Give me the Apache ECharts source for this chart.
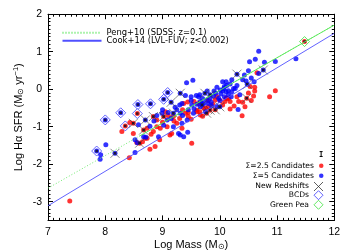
<!DOCTYPE html>
<html><head><meta charset="utf-8">
<script src="https://cdn.jsdelivr.net/npm/echarts@6/dist/echarts.min.js"></script>
<style>html,body{margin:0;padding:0;background:#fff}#c{width:350px;height:250px}</style>
</head><body><div id="c"></div>
<script>
const xTicks = [7, 8, 9, 10, 11, 12];
const yTicks = [-3, -2, -1, 0, 1, 2];

const pengLine = [[7, -2.64], [12, 1.71]];
const pengSolid = [[8.6, -1.25], [12, 1.71]];
const cookLine = [[7, -3.11], [12, 1.49]];

const sigma25 = [
 [7.38,-2.98],[8.42,-1.83],[8.55,-1.42],[8.60,-1.44],[8.78,-1.60],[8.87,-1.53],[8.73,-1.31],[8.49,-1.18],
 [8.29,-1.13],[8.43,-0.89],[9.34,-1.04],[9.51,-1.44],[9.13,-1.22],[9.16,-1.18],[10.97,-0.04],[10.87,-0.20],
 [10.39,-0.71],[10.65,0.44],[10.53,0.07],[10.61,0.05],[10.61,-0.05],[10.59,-0.18],[10.47,-0.24],[10.33,-0.33],
 [10.44,-0.47],[10.18,-0.53],[10.11,-0.24],[9.37,-0.38],[9.44,-0.34],[9.63,-0.38],[9.05,-0.60],[8.90,-0.82],
 [9.19,-0.73],[9.40,-0.64],[8.73,-1.04],[8.84,-1.13],[8.70,-1.31],[8.96,-1.04],[9.08,-1.00],[9.45,-0.73],
 [9.60,-0.56],[9.75,-0.51],[9.25,-0.91],[9.92,-0.29],[10.01,-0.31],[10.09,-0.33],[10.12,-0.24],[10.18,-0.33],
 [9.80,-0.47],[9.83,-0.56],[9.72,-0.51],[9.66,-0.69],[9.60,-0.60],[8.35,-0.98],[8.56,-0.65],[11.48,1.27],
 [8.84,-0.73],[8.49,-0.91],[8.67,-1.09],[9.02,-0.73],[9.92,-0.55],[9.77,-0.64],
 [8.90,-1.00],[9.00,-0.88],[9.10,-0.70],[9.20,-0.85],[9.30,-0.78],[9.35,-0.55],[9.45,-0.62],[9.50,-0.80],
 [9.55,-0.33],[9.65,-0.60],[9.70,-0.72],[9.80,-0.30],[9.88,-0.40],[9.95,-0.20],[10.05,-0.42],[10.15,-0.25],
 [10.25,-0.45],[10.30,-0.20],[10.40,-0.35],[10.50,-0.10],[10.55,-0.30],[8.80,-1.20],[8.65,-1.40],[8.95,-1.35]
];

const sigma5 = [
 [10.68,1.01],[10.62,0.80],[10.78,0.72],[10.97,0.74],[11.33,0.81],[10.52,0.73],[10.50,0.49],[10.43,0.38],
 [10.68,0.42],[10.76,0.51],[10.30,0.40],[10.46,0.22],[10.21,0.25],[10.05,0.20],[10.11,0.20],[10.18,0.14],
 [10.48,0.13],[10.08,0.07],[10.24,0.02],[10.21,-0.07],[9.74,-0.11],[9.63,-0.20],[9.93,-0.11],[10.01,-0.02],
 [9.42,0.17],[9.53,0.24],[9.31,-0.11],[9.40,-0.17],[9.50,-0.20],[9.22,-0.48],[9.37,-1.27],[9.28,-1.18],
 [9.44,-1.15],[9.31,-1.22],[10.32,-0.54],[8.52,-1.35],[8.56,-1.43],[8.52,-1.69],[8.01,-1.48],[7.92,-1.75],
 [7.91,-1.87],[8.17,-1.71],[8.67,-1.27],[8.71,-1.28],[9.66,-0.33],[9.69,-0.38],[9.77,-0.29],[9.83,-0.24],
 [9.89,-0.18],[10.07,0.02],[10.11,-0.07],[10.15,-0.04],[10.02,-0.13],[10.08,-0.20],[9.98,-0.24],[10.15,-0.15],
 [10.27,0.02],[9.75,-0.60],[9.86,-0.45],[9.95,-0.47],[9.51,-0.42],[9.72,-0.38],[8.99,-0.64],[9.08,-0.82],
 [9.31,-0.64],[8.58,-0.95],[8.78,-0.99],[8.93,-1.27],[9.02,-0.96],[9.43,-0.82],[9.54,-0.64],[9.66,-0.47],
 [9.80,-0.38],[9.34,-0.91],[9.19,-1.00],[9.34,-0.38],[9.59,-0.17],[9.15,-0.35],[8.70,-0.82],[9.69,-0.42],
 [9.19,-0.64],[9.83,-0.15],[10.00,-0.47],
 [7.85,-1.65],[8.00,-0.82],[8.27,-0.63],[8.57,-0.41],[8.79,-0.39],[9.02,-0.27],[9.09,-0.09],
 [8.85,-0.85],[8.90,-0.70],[9.00,-0.55],[9.10,-0.62],[9.15,-0.78],[9.25,-0.55],[9.30,-0.42],[9.35,-0.70],
 [9.45,-0.55],[9.50,-0.30],[9.55,-0.52],[9.60,-0.40],[9.65,-0.15],[9.70,-0.25],[9.78,-0.05],[9.85,-0.35],
 [9.90,-0.05],[9.95,0.05],[10.00,-0.30],[10.05,-0.05],[10.12,0.10],[10.20,-0.20],[10.30,0.10],[10.35,-0.15],
 [10.40,0.25],[10.55,0.30],[10.60,0.20]
];

const newRedshifts = [
 [8.17,-1.71],[8.60,-1.44],[9.31,-0.11],[9.74,-0.11],[10.30,0.40],[10.76,0.51],[10.48,0.13],[10.47,-0.24],
 [9.83,-0.56],[9.15,-0.35],[8.84,-0.73],[8.70,-0.82],[8.49,-0.91],[8.67,-1.09],[9.69,-0.42],[9.02,-0.73],
 [9.19,-0.64],[9.83,-0.15],[9.92,-0.55],[10.00,-0.47],[9.77,-0.64]
];

const bcds = [
 [7.85,-1.65],[8.00,-0.82],[8.27,-0.63],[8.35,-0.98],[8.57,-0.41],[8.56,-0.65],[8.79,-0.39],[9.02,-0.27],[9.09,-0.09]
];
const greenPea = [[11.48,1.27]];
const errBar = [[11.77,-1.73,0.065]];

const FONT = 'Liberation Sans';
const LFONT = 'DejaVu Sans';
const chart = echarts.init(document.getElementById('c'), null, {renderer:'canvas'});

const axLine = {show:true, onZero:false, lineStyle:{color:'#000', width:1}};
function xAx(pos, labels){
  return {type:'value', position:pos, min:7, max:12, interval:1,
    axisLine:axLine, splitLine:{show:false},
    axisTick:{show:true, inside:true, length:5, lineStyle:{color:'#000'}},
    minorTick:{show:true, splitNumber:10, length:2.5, lineStyle:{color:'#000'}},
    axisLabel:{show:labels, color:'#000', fontSize:10.5, fontFamily:FONT, margin:6},
    name: labels ? 'Log Mass (M{s|\u2299})' : '',
    nameLocation:'middle', nameGap:18, nameMoveOverlap:false,
    nameTextStyle:{color:'#000', fontSize:11, fontFamily:FONT, lineHeight:13,
      rich:{s:{fontSize:7.5, fontFamily:FONT, lineHeight:8, verticalAlign:'bottom'}}}
  };
}
function yMajor(pos, labels){
  return {type:'value', position:pos, min:-3.5, max:2, interval:0.5,
    axisLine:axLine, splitLine:{show:false},
    axisTick:{show:true, inside:true, length:5, customValues:yTicks, lineStyle:{color:'#000'}},
    axisLabel:{show:labels, customValues:yTicks, color:'#000', fontSize:10.5, fontFamily:FONT, margin:6,
      formatter: v => (Number.isInteger(v) ? String(v) : '')},
    name: labels ? 'Log H\u03b1 SFR (M{s|\u2299} yr{p|\u22121})' : '',
    nameLocation:'middle', nameGap:23, nameMoveOverlap:false,
    nameTextStyle:{color:'#000', fontSize:11, fontFamily:FONT, lineHeight:13,
      rich:{s:{fontSize:7.5, fontFamily:FONT, lineHeight:8, verticalAlign:'bottom'},
            p:{fontSize:7.5, fontFamily:FONT, lineHeight:8, verticalAlign:'top'}}}
  };
}
function yMinor(pos){
  return {type:'value', position:pos, min:-3.5, max:2, interval:0.1,
    axisLine:{show:false, onZero:false}, splitLine:{show:false}, axisLabel:{show:false},
    axisTick:{show:true, inside:true, length:2.5, lineStyle:{color:'#000'}}};
}

const centers = newRedshifts.concat(bcds, greenPea);
const xIcon = 'path://M0,0L10,10M10,0L0,10';
const dIcon = 'path://M5,0L10,5L5,10L0,5Z';
function rowLegend(item, right, top, w){
  return {data:[item], orient:'vertical', align:'right', right:right, top:top,
    itemWidth:w, itemHeight:9, itemGap:0, padding:0,
    textStyle:{fontSize:7.6, fontFamily:LFONT, color:'#000', lineHeight:9}};
}

const option = {
  animation:false,
  backgroundColor:'#fff',
  grid:{left:48, right:15.7, top:14.2, bottom:29.6, outerBoundsMode:'none', containLabel:false},
  xAxis:[xAx('bottom', true), xAx('top', false)],
  yAxis:[yMajor('left', true), yMinor('left'), yMajor('right', false), yMinor('right')],
  legend:[
    {data:['Peng+10 (SDSS; z=0.1)','Cook+14 (LVL-FUV; z<0.002)'], orient:'vertical', left:61.5, top:28.8,
     itemWidth:39, itemHeight:7, itemGap:0, padding:0, itemStyle:{opacity:0},
     textStyle:{fontSize:8.4, fontFamily:LFONT, color:'#000', lineHeight:7}},
    rowLegend('\u03a3=2.5 Candidates', 26.5, 161.2, 4.5),
    rowLegend('\u03a3=5 Candidates', 26.5, 171.2, 4.5),
    rowLegend({name:'New Redshifts', icon:xIcon, itemStyle:{color:'none', borderColor:'#222', borderWidth:0.9}}, 24.5, 179.5, 9),
    rowLegend({name:'BCDs', icon:dIcon, itemStyle:{color:'none', borderColor:'#3b3bff', borderWidth:1}}, 24.5, 188.2, 9),
    rowLegend({name:'Green Pea', icon:dIcon, itemStyle:{color:'none', borderColor:'#3ce23c', borderWidth:1}}, 24.5, 197.8, 9)
  ],
  series:[
    {name:'Peng+10 (SDSS; z=0.1)', type:'line', data:pengLine, symbol:'none', silent:true,
     lineStyle:{color:'#5fe85f', width:0.9, type:[1,2]}, itemStyle:{color:'#5fe85f'}},
    {name:'pengSolid', type:'line', data:pengSolid, symbol:'none', silent:true,
     lineStyle:{color:'#4fe84f', width:0.9}},
    {name:'Cook+14 (LVL-FUV; z<0.002)', type:'line', data:cookLine, symbol:'none', silent:true,
     lineStyle:{color:'#5050ff', width:0.9}, itemStyle:{color:'#5050ff'}},
    {name:'BCDs', type:'scatter', data:bcds, symbol:dIcon, symbolSize:10,
     itemStyle:{color:'#fff', borderColor:'#3b3bff', borderWidth:1}},
    {name:'Green Pea', type:'scatter', data:greenPea, symbol:dIcon, symbolSize:10,
     itemStyle:{color:'#fff', borderColor:'#3ce23c', borderWidth:1}},
    {name:'\u03a3=2.5 Candidates', type:'scatter', data:sigma25, symbol:'circle', symbolSize:5,
     itemStyle:{color:'#ff0000'}},
    {name:'\u03a3=5 Candidates', type:'scatter', data:sigma5, symbol:'circle', symbolSize:5,
     itemStyle:{color:'#0000ff'}},
    {name:'New Redshifts', type:'scatter', data:newRedshifts, symbol:xIcon, symbolSize:9,
     itemStyle:{color:'none', borderColor:'#444', borderWidth:0.8}},
    {name:'centers', type:'scatter', data:centers, symbol:'rect', symbolSize:2.6,
     itemStyle:{color:'#120c20'}},
    {name:'err', type:'custom', data:errBar, renderItem:function(params, api){
       const x = api.value(0), y = api.value(1), e = api.value(2);
       const p1 = api.coord([x, y + e]), p2 = api.coord([x, y - e]);
       const st = {stroke:'#000', lineWidth:1};
       return {type:'group', children:[
         {type:'line', shape:{x1:p1[0], y1:p1[1], x2:p2[0], y2:p2[1]}, style:st},
         {type:'line', shape:{x1:p1[0]-1.5, y1:p1[1], x2:p1[0]+1.5, y2:p1[1]}, style:st},
         {type:'line', shape:{x1:p2[0]-1.5, y1:p2[1], x2:p2[0]+1.5, y2:p2[1]}, style:st}
       ]};
     }}
  ]
};
chart.setOption(option);
</script></body></html>
